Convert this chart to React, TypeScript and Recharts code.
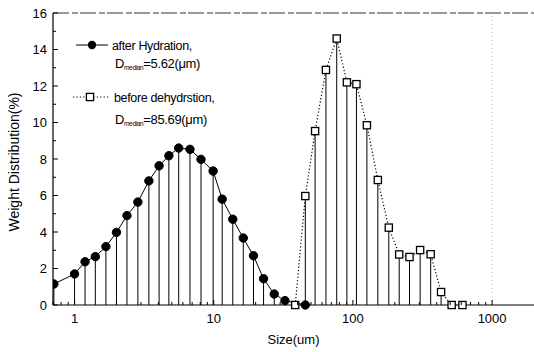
import React from "react";
import { LineChart, Line, XAxis, YAxis, ReferenceLine, Legend } from "recharts";

// after Hydration (filled circles)
const afterSize = [0.71, 1.0, 1.19, 1.41, 1.68, 2.0, 2.38, 2.85, 3.42, 4.05, 4.76, 5.6, 6.75, 8.1, 9.9, 11.5, 13.7, 16.3, 19.3, 22.8, 27.2, 32.5, 45.5];
const afterWeight = [1.15, 1.7, 2.37, 2.65, 3.2, 3.98, 4.9, 5.64, 6.8, 7.63, 8.18, 8.6, 8.53, 7.98, 7.34, 5.8, 4.7, 3.67, 2.7, 1.44, 0.6, 0.24, 0.0];

// before dehydration (open squares)
const beforeSize = [38.5, 45.5, 53.5, 64, 76.5, 90.5, 106, 126, 151, 181, 215, 255, 304, 362, 430, 512, 612];
const beforeWeight = [0.0, 5.97, 9.53, 12.88, 14.6, 12.2, 12.1, 9.85, 6.85, 4.24, 2.77, 2.63, 3.01, 2.78, 0.71, 0.0, 0.0];

const xTicks = [0.7, 0.8, 0.9, 1, 2, 3, 4, 5, 6, 7, 8, 9, 10, 20, 30, 40, 50, 60, 70, 80, 90, 100, 200, 300, 400, 500, 600, 700, 800, 900, 1000];
const xMajor = [1, 10, 100, 1000];
const yTicks = [0, 1, 2, 3, 4, 5, 6, 7, 8, 9, 10, 11, 12, 13, 14, 15, 16];

const afterData = afterSize.map((x, i) => ({ x, y: afterWeight[i] }));
const beforeData = beforeSize.map((x, i) => ({ x, y: beforeWeight[i] }));

const FONT = "'Liberation Sans', Arial, sans-serif";

const XTick = (props: any) => {
  const { x, y, payload } = props;
  const v = payload.value;
  const major = xMajor.includes(v);
  return (
    <g>
      <line x1={x} x2={x} y1={y} y2={y - (major ? 5 : 3)} stroke="#000" strokeWidth={1} />
      {major && (
        <text x={x} y={y + 18} textAnchor="middle" fontSize={13} fontFamily={FONT} fill="#000">
          {v}
        </text>
      )}
    </g>
  );
};

const YTick = (props: any) => {
  const { x, y, payload } = props;
  const v = payload.value;
  const major = v % 2 === 0;
  return (
    <g>
      <line x1={x} x2={x + (major ? 5 : 3)} y1={y} y2={y} stroke="#000" strokeWidth={1} />
      {major && (
        <text x={x - 6} y={y} dy="0.36em" textAnchor="end" fontSize={13} fontFamily={FONT} fill="#000">
          {v}
        </text>
      )}
    </g>
  );
};

const YLabel = (props: any) => {
  const vb = props.viewBox || { x: 0, y: 13, width: 53, height: 292 };
  const cx = vb.x + 14;
  const cy = vb.y + vb.height / 2 + 3;
  return (
    <text
      x={cx}
      y={cy}
      transform={`rotate(-90 ${cx} ${cy})`}
      textAnchor="middle"
      dominantBaseline="central"
      fontSize={14}
      fontFamily={FONT}
      fill="#000"
    >
      Weight Distribution(%)
    </text>
  );
};

const CircleDot = (p: any) => {
  if (p.cx == null || p.cy == null) return <g key={`c-${p.index}`} />;
  return <circle key={`c-${p.index}`} cx={p.cx} cy={p.cy} r={4.2} fill="#000" stroke="#000" />;
};

const SquareDot = (p: any) => {
  if (p.cx == null || p.cy == null) return <g key={`s-${p.index}`} />;
  return (
    <rect
      key={`s-${p.index}`}
      x={p.cx - 3.6}
      y={p.cy - 3.6}
      width={7.2}
      height={7.2}
      fill="#fff"
      stroke="#000"
      strokeWidth={1.3}
    />
  );
};

const LegendBox = () => (
  <svg width={170} height={110} style={{ overflow: "visible", display: "block" }}>
    <g transform="translate(-70,-30)" fontFamily={FONT} fill="#000" letterSpacing={-0.35}>
      <line x1={76} x2={108} y1={45} y2={45} stroke="#000" strokeWidth={1} />
      <circle cx={92} cy={45} r={4.2} fill="#000" />
      <text x={112} y={50} fontSize={12.5}>after Hydration,</text>
      <text x={115} y={68} fontSize={13}>
        D<tspan fontSize={6.5} dy={2}>median</tspan>
        <tspan dy={-2}>=5.62(μm)</tspan>
      </text>
      <line x1={73} x2={110} y1={97} y2={97} stroke="#000" strokeWidth={1.2} strokeDasharray="1.2 2.2" />
      <rect x={86.4} y={93.4} width={7.2} height={7.2} fill="#fff" stroke="#000" strokeWidth={1.3} />
      <text x={114} y={102} fontSize={12.5}>before dehydrstion,</text>
      <text x={115} y={124} fontSize={13}>
        D<tspan fontSize={6.5} dy={2}>median</tspan>
        <tspan dy={-2}>=85.69(μm)</tspan>
      </text>
    </g>
  </svg>
);

export default function App() {
  return (
    <div style={{ position: "absolute", left: 0, top: 0, width: 534, height: 352, background: "#fff" }}>
      <LineChart width={534} height={352} margin={{ top: 13, right: 0, bottom: 0, left: 0 }}>
        <XAxis
          dataKey="x"
          type="number"
          scale="log"
          domain={[0.7, 2000]}
          allowDataOverflow
          ticks={xTicks}
          interval={0}
          tick={<XTick />}
          tickLine={false}
          tickSize={0}
          tickMargin={0}
          height={47}
          axisLine={{ stroke: "#000", strokeWidth: 1.2 }}
          label={{ value: "Size(um)", position: "insideBottom", offset: 8, fontSize: 13, fontFamily: FONT, fill: "#000" }}
        />
        <YAxis
          type="number"
          domain={[0, 16]}
          ticks={yTicks}
          interval={0}
          width={53}
          tick={<YTick />}
          tickLine={false}
          tickSize={0}
          tickMargin={0}
          axisLine={{ stroke: "#000", strokeWidth: 1.2 }}
          label={<YLabel />}
        />
        <ReferenceLine y={16} stroke="#333" strokeWidth={1} strokeDasharray="16 3 6 2" />
        <ReferenceLine x={1000} stroke="#bbb" strokeWidth={1} strokeDasharray="1 3" segment={[{ x: 1000, y: 0 }, { x: 1000, y: 14 }]} />
        {afterData.map((d, i) => (
          <ReferenceLine key={`da-${i}`} segment={[{ x: d.x, y: 0 }, { x: d.x, y: d.y }]} stroke="#000" strokeWidth={1} />
        ))}
        {beforeData.map((d, i) => (
          <ReferenceLine key={`db-${i}`} segment={[{ x: d.x, y: 0 }, { x: d.x, y: d.y }]} stroke="#000" strokeWidth={1} />
        ))}
        <Line
          data={afterData}
          dataKey="y"
          stroke="#000"
          strokeWidth={1}
          dot={CircleDot}
          activeDot={false}
          isAnimationActive={false}
          name="after Hydration"
        />
        <Line
          data={beforeData}
          dataKey="y"
          stroke="#000"
          strokeWidth={1.2}
          strokeDasharray="1.2 2.2"
          dot={SquareDot}
          activeDot={false}
          isAnimationActive={false}
          name="before dehydrstion"
        />
        <Legend
          content={<LegendBox />}
          layout="vertical"
          align="center"
          verticalAlign="middle"
          wrapperStyle={{ position: "absolute", left: 70, top: 30, width: 170, height: 110 }}
        />
      </LineChart>
    </div>
  );
}
